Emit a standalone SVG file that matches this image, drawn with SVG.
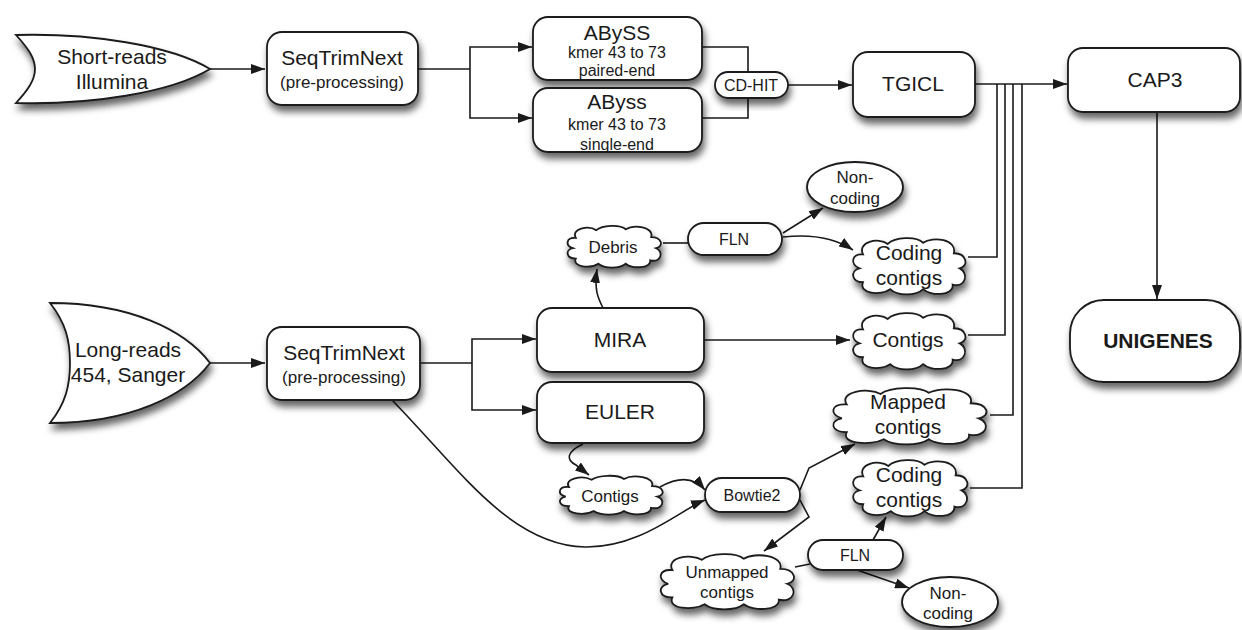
<svg xmlns="http://www.w3.org/2000/svg" xmlns:xlink="http://www.w3.org/1999/xlink" width="1242" height="630" viewBox="0 0 1242 630">
<style>
.n{fill:#fff;stroke:#1a1a1a;stroke-width:1.8}
.c{fill:none;stroke:#1a1a1a;stroke-width:1.6}
.a{marker-end:url(#ah)}
.cl{vector-effect:non-scaling-stroke}
text{font-family:"Liberation Sans",Arial,Helvetica,sans-serif;fill:#1a1a1a;text-anchor:middle}
.f21{font-size:21px}
.f17{font-size:17px}
.f16{font-size:16px}
.b{font-weight:bold}
</style>
<defs>
<filter id="sh" x="-20%" y="-20%" width="150%" height="170%">
<feDropShadow dx="2" dy="6" stdDeviation="3.5" flood-color="#000" flood-opacity="0.6"/>
</filter>
<marker id="ah" viewBox="0 0 14 10" refX="14" refY="5" markerWidth="14" markerHeight="10" markerUnits="userSpaceOnUse" orient="auto">
<path d="M0,0 L14,5 L0,10 Z" fill="#1a1a1a"/>
</marker>
<path id="cloud" class="n cl" d="M11,15 C6,4 24,0 32,6 C38,0 56,-1 62,5 C70,-1 91,2 88,14 C99,14 101,25 93,27 C101,31 98,44 87,41 C88,51 68,51 62,45 C56,51 40,51 34,45 C26,51 7,49 11,39 C1,39 0,29 8,27 C0,24 1,14 11,15 Z"/>
</defs>
<rect width="1242" height="630" fill="#fff"/>

<g id="connectors">
<path class="c a" d="M210,69 H265"/>
<path class="c" d="M418,69 H470"/>
<path class="c a" d="M470,69 V47 H532"/>
<path class="c a" d="M470,69 V118 H532"/>
<path class="c" d="M702,47 H748 V72"/>
<path class="c" d="M702,118 H748 V98"/>
<path class="c a" d="M788,85 H852"/>
<path class="c a" d="M975,84 H1067"/>
<path class="c" d="M968,257 H997 V84"/>
<path class="c" d="M968,335 H1005 V84"/>
<path class="c" d="M990,415 H1013 V84"/>
<path class="c" d="M970,488 H1022 V84"/>
<path class="c a" d="M1157,112 V299"/>
<path class="c a" d="M210,363 H265"/>
<path class="c" d="M421,363 H472"/>
<path class="c a" d="M472,363 V339 H536"/>
<path class="c a" d="M472,363 V410 H536"/>
<path class="c a" d="M603,308 C598,298 594,290 597,269"/>
<path class="c" d="M663,243 H688"/>
<path class="c a" d="M783,233 L823,208"/>
<path class="c a" d="M783,237 C810,234 835,238 853,250"/>
<path class="c a" d="M704,340 H850"/>
<path class="c a" d="M583,444 C566,452 566,460 576,465 L589,475"/>
<path class="c a" d="M660,487 C680,476 695,478 705,490"/>
<path class="c a" d="M392,400 C460,470 510,545 585,547 C640,548 680,510 705,500"/>
<path class="c a" d="M800,490 L809,468 L855,444"/>
<path class="c a" d="M800,500 L809,517 L764,551"/>
<path class="c" d="M795,567 L810,564"/>
<path class="c a" d="M873,540 L886,517"/>
<path class="c a" d="M857,570 L909,588"/>
</g>

<g id="short-reads">
<path class="n" filter="url(#sh)" d="M16,35 C90,33 170,45 210,69 C170,93 90,105 16,103 C28,90 35,80 35,69 C35,58 28,48 16,35 Z"/>
<text class="f21" x="112" y="64">Short-reads</text>
<text class="f21" x="112" y="89">Illumina</text>
</g>

<g id="seqtrim1">
<rect class="n" filter="url(#sh)" x="267" y="32" width="151" height="73" rx="15"/>
<text class="f21" x="342" y="65">SeqTrimNext</text>
<text class="f17" x="342" y="88">(pre-processing)</text>
</g>

<g id="abyss-pe">
<rect class="n" filter="url(#sh)" x="533" y="17" width="169" height="63" rx="15"/>
<text class="f21" x="617" y="40">ABySS</text>
<text class="f16" x="617" y="58">kmer 43 to 73</text>
<text class="f16" x="617" y="76">paired-end</text>
</g>

<g id="abyss-se">
<rect class="n" filter="url(#sh)" x="533" y="88" width="169" height="64" rx="15"/>
<text class="f21" x="617" y="109">AByss</text>
<text class="f16" x="617" y="130">kmer 43 to 73</text>
<text class="f16" x="617" y="150">single-end</text>
</g>

<g id="cdhit">
<rect class="n" filter="url(#sh)" x="715" y="72" width="73" height="26" rx="13"/>
<text class="f16" x="751" y="91">CD-HIT</text>
</g>

<g id="tgicl">
<rect class="n" filter="url(#sh)" x="853" y="52" width="122" height="65" rx="15"/>
<text class="f21" x="913" y="91">TGICL</text>
</g>

<g id="cap3">
<rect class="n" filter="url(#sh)" x="1068" y="48" width="172" height="64" rx="15"/>
<text class="f21" x="1155" y="87">CAP3</text>
</g>

<g id="unigenes">
<rect class="n" filter="url(#sh)" x="1070" y="300" width="170" height="82" rx="34"/>
<text class="f21 b" x="1158" y="348">UNIGENES</text>
</g>

<g id="noncoding1">
<ellipse class="n" filter="url(#sh)" cx="855" cy="187" rx="48" ry="25"/>
<text class="f17" x="855" y="183">Non-</text>
<text class="f17" x="855" y="204">coding</text>
</g>

<g id="debris">
<g filter="url(#sh)"><use xlink:href="#cloud" transform="translate(565,225) scale(0.98,0.86)"/></g>
<text class="f17" x="613" y="253">Debris</text>
</g>

<g id="fln1">
<rect class="n" filter="url(#sh)" x="688" y="223" width="94" height="32" rx="16"/>
<text class="f16" x="734" y="245">FLN</text>
</g>

<g id="coding1">
<g filter="url(#sh)"><use xlink:href="#cloud" transform="translate(850,237) scale(1.18,1.16)"/></g>
<text class="f21" x="909" y="260">Coding</text>
<text class="f21" x="909" y="285">contigs</text>
</g>

<g id="contigs-mira">
<g filter="url(#sh)"><use xlink:href="#cloud" transform="translate(850,312) scale(1.18,1.16)"/></g>
<text class="f21" x="908" y="347">Contigs</text>
</g>

<g id="mapped">
<g filter="url(#sh)"><use xlink:href="#cloud" transform="translate(829,387) scale(1.61,1.16)"/></g>
<text class="f21" x="908" y="409">Mapped</text>
<text class="f21" x="908" y="434">contigs</text>
</g>

<g id="coding2">
<g filter="url(#sh)"><use xlink:href="#cloud" transform="translate(850,459) scale(1.2,1.16)"/></g>
<text class="f21" x="909" y="482">Coding</text>
<text class="f21" x="909" y="507">contigs</text>
</g>

<g id="long-reads">
<path class="n" filter="url(#sh)" d="M50,303 C130,303 185,330 210,363 C185,396 130,423 50,423 C66,403 70,385 70,363 C70,341 66,323 50,303 Z"/>
<text class="f21" x="128" y="357">Long-reads</text>
<text class="f21" x="128" y="382">454, Sanger</text>
</g>

<g id="seqtrim2">
<rect class="n" filter="url(#sh)" x="267" y="327" width="153" height="73" rx="15"/>
<text class="f21" x="344" y="360">SeqTrimNext</text>
<text class="f17" x="344" y="383">(pre-processing)</text>
</g>

<g id="mira">
<rect class="n" filter="url(#sh)" x="537" y="308" width="167" height="64" rx="15"/>
<text class="f21" x="620" y="347">MIRA</text>
</g>

<g id="euler">
<rect class="n" filter="url(#sh)" x="537" y="382" width="167" height="61" rx="15"/>
<text class="f21" x="620" y="419">EULER</text>
</g>

<g id="contigs-euler">
<g filter="url(#sh)"><use xlink:href="#cloud" transform="translate(557,475) scale(1.08,0.8)"/></g>
<text class="f17" x="610" y="502">Contigs</text>
</g>

<g id="bowtie2">
<rect class="n" filter="url(#sh)" x="705" y="478" width="95" height="34" rx="17"/>
<text class="f16" x="752" y="501">Bowtie2</text>
</g>

<g id="unmapped">
<g filter="url(#sh)"><use xlink:href="#cloud" transform="translate(657,553) scale(1.4,1.14)"/></g>
<text class="f17" x="727" y="578">Unmapped</text>
<text class="f17" x="727" y="598">contigs</text>
</g>

<g id="fln2">
<rect class="n" filter="url(#sh)" x="808" y="540" width="95" height="30" rx="15"/>
<text class="f16" x="855" y="561">FLN</text>
</g>

<g id="noncoding2">
<ellipse class="n" filter="url(#sh)" cx="950" cy="602" rx="48" ry="25"/>
<text class="f17" x="948" y="599">Non-</text>
<text class="f17" x="948" y="619">coding</text>
</g>
</svg>
